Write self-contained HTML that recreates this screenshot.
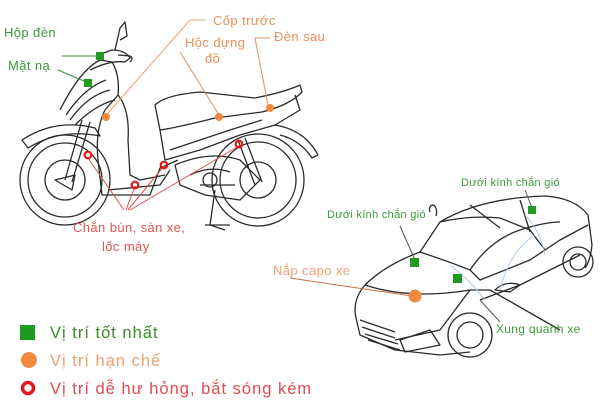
<!DOCTYPE html>
<html><head><meta charset="utf-8"><style>
html,body{margin:0;padding:0;background:#fff}
svg{display:block}
text{font-family:"Liberation Sans","DejaVu Sans",sans-serif}
</style></head><body>
<svg width="600" height="413" viewBox="0 0 600 413" xmlns="http://www.w3.org/2000/svg">
<g fill="none" stroke="#2a2a2a" stroke-width="1.3" stroke-linejoin="round">
<!-- motorcycle wheels -->
<circle cx="65" cy="180" r="45"/><circle cx="65" cy="180" r="37"/><circle cx="65" cy="180" r="20"/>
<circle cx="258" cy="180" r="46"/><circle cx="258" cy="180" r="38"/><circle cx="258" cy="180" r="18"/>
<!-- front fender -->
<path d="M22 140 Q55 118 95 128 L100 136 Q60 128 28 148 Z"/>
<!-- front body / leg shield -->
<path d="M60 110 Q80 70 100 60 L112 62 Q120 75 118 95 L105 110 Q95 130 98 160 L102 195 L150 195 L160 168 L178 160"/>
<path d="M70 120 Q88 95 110 90"/>
<path d="M66 115 Q84 88 106 80 M75 125 Q95 105 115 100"/>
<path d="M90 70 Q110 60 125 62 L130 58 Q125 50 112 50 L98 55"/>
<path d="M118 95 Q130 110 128 140 L130 175 L140 180 L165 175"/>
<path d="M108 190 L160 185 L170 170"/>
<!-- handlebar mirror -->
<path d="M115 50 L120 28 L125 22 L127 36 L120 40"/>
<path d="M118 55 L130 56 Q134 58 130 62"/>
<!-- fork -->
<path d="M65 180 L82 120 M72 182 L90 122"/>
<path d="M55 180 L75 175 L72 190 Z"/>
<!-- seat -->
<path d="M155 105 Q165 95 200 92 L255 98 Q285 92 300 85 L302 92 Q290 105 262 112 L215 118 Q175 128 160 130 Z"/>
<path d="M160 130 L165 160 L200 150 L240 135 L275 125 L300 110 L295 95"/>
<path d="M170 150 L230 130 L262 120"/>
<!-- rear fender -->
<path d="M275 125 Q305 130 318 155 L312 158 Q300 140 280 135"/>
<!-- engine -->
<path d="M175 165 Q210 150 240 160 L260 180 L240 200 L205 195 L180 185 Z"/>
<path d="M190 175 Q210 165 230 172 M200 185 L235 185"/>
<circle cx="210" cy="180" r="7"/>
<path d="M238 140 L255 185 M245 138 L262 182"/>
<path d="M215 190 L210 225 L225 230 M205 225 L230 225"/>
<!-- car body -->
<path d="M356 318 Q352 300 365 285 Q385 265 420 252 L440 222 Q480 198 545 196 Q575 198 588 215 L592 245 Q590 262 585 268"/>
<path d="M356 318 L360 335 L395 350 L440 355 L470 352"/>
<path d="M420 252 Q450 262 470 270 L480 280 L530 260 L560 240 L588 225"/>
<path d="M440 222 Q470 215 500 218 L530 230 L545 250"/>
<path d="M470 270 Q490 240 520 230 Q545 222 560 222"/>
<path d="M365 285 Q410 300 470 290 L490 290"/>
<path d="M470 290 L440 330 L395 340 M480 300 L520 285 L580 255"/>
<path d="M490 290 L560 330"/>
<path d="M470 205 L500 228 M520 200 L530 232"/>
<path d="M360 320 L395 332 M362 327 L395 338 M365 334 L398 344 M368 340 L400 350"/>
<path d="M400 340 L430 330 L440 345 L405 352 Z"/>
<circle cx="470" cy="335" r="22"/><circle cx="470" cy="335" r="13"/>
<circle cx="578" cy="262" r="15"/><circle cx="578" cy="262" r="8"/>
<path d="M430 212 Q428 205 434 205 Q438 210 436 216"/>
<path d="M495 290 Q505 280 520 285 L510 292 Z"/>
</g>
<g fill="none" stroke="#a8c8e8" stroke-width="1.2" opacity=".8">
<path d="M450 265 Q470 280 485 300 M525 215 Q540 230 545 255 M500 290 Q510 250 535 235"/>
</g>
<!-- leader lines -->
<g fill="none" stroke-width="1">
<path d="M62 56 L100 56" stroke="#3a8a3a"/>
<path d="M58 70 L86 82" stroke="#3a8a3a"/>
<path d="M205 20 L190 20 L108 113" stroke="#f0a070"/>
<path d="M180 52 L219 115" stroke="#e09060"/>
<path d="M270 38 L255 38 L268 105" stroke="#e09060"/>
<path d="M88 158 L124 210 M135 186 L126 210 M164 166 L128 210 M239 146 L130 210" stroke="#e05050"/>
<path d="M400 226 L415 260" stroke="#555"/>
<path d="M525 190 L532 208" stroke="#555"/>
<path d="M290 278 L412 296" stroke="#d07040"/>
<path d="M500 322 L480 300" stroke="#555"/>
</g>
<!-- markers -->
<g fill="#1e9a1e">
<rect x="96" y="52" width="8" height="8"/><rect x="84" y="79" width="8" height="8"/>
<rect x="528" y="206" width="8" height="8"/><rect x="410" y="258" width="9" height="9"/><rect x="453" y="274" width="9" height="9"/>
<rect x="20" y="325" width="15" height="15"/>
</g>
<g fill="#f08a40">
<circle cx="106" cy="117" r="4"/><circle cx="219" cy="117" r="4"/><circle cx="270" cy="108" r="4"/>
<circle cx="415" cy="296" r="6.5"/><circle cx="29" cy="360" r="8"/>
</g>
<g fill="none" stroke="#e01818" stroke-width="2.2">
<circle cx="88" cy="155" r="3.3"/><circle cx="164" cy="165" r="3.3"/><circle cx="135" cy="185" r="3.3"/><circle cx="239" cy="144" r="3.3"/>
<circle cx="28" cy="388" r="5.5" stroke-width="3.5"/>
</g>
<!-- labels -->
<g font-size="13" letter-spacing="0.4">
<text x="4" y="37" fill="#3a9a3a">Hộp đèn</text>
<text x="8" y="70" fill="#3a9a3a">Mặt nạ</text>
<text x="213" y="25" fill="#e8905a">Cốp trước</text>
<text x="185" y="47" fill="#e8905a">Hộc đựng</text>
<text x="205" y="63" fill="#e8905a">đồ</text>
<text x="274" y="41" fill="#e8905a">Đèn sau</text>
<text x="73" y="232" fill="#e05555">Chắn bùn, sàn xe,</text>
<text x="102" y="251" fill="#e05555">lốc máy</text>
<text x="273" y="275" fill="#f0a070">Nắp capo xe</text>
</g>
<g font-size="11" fill="#3a9a3a" letter-spacing="0.3">
<text x="461" y="186">Dưới kính chắn gió</text>
<text x="327" y="218">Dưới kính chắn gió</text>
<text x="496" y="333" font-size="12">Xung quanh xe</text>
</g>
<g font-size="16.5" letter-spacing="1">
<text x="50" y="338" fill="#3a8a2a">Vị trí tốt nhất</text>
<text x="50" y="366" fill="#f0a070">Vị trí hạn chế</text>
<text x="50" y="394" fill="#e04a50">Vị trí dễ hư hỏng, bắt sóng kém</text>
</g>
</svg>
</body></html>
